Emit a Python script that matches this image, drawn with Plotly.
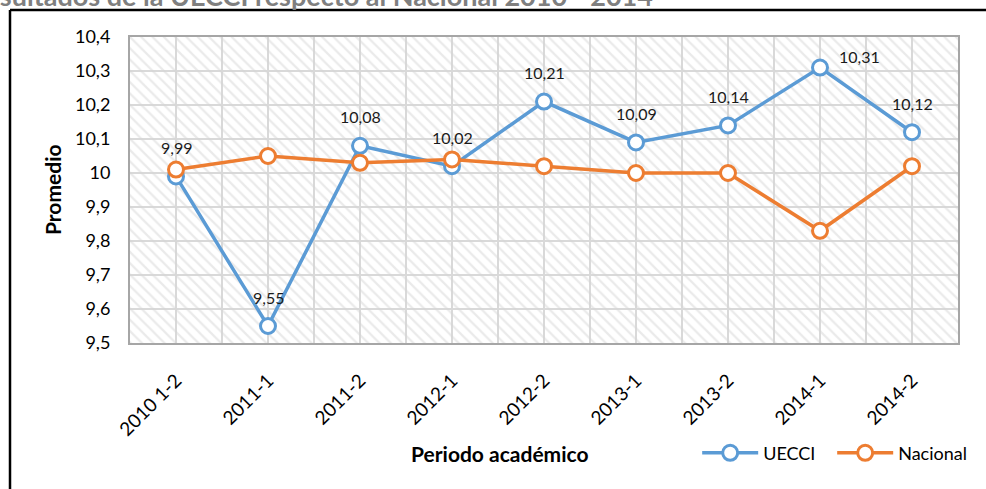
import plotly.graph_objects as go

periods = ["2010 1-2", "2011-1", "2011-2", "2012-1", "2012-2", "2013-1", "2013-2", "2014-1", "2014-2"]
uecci = [9.99, 9.55, 10.08, 10.02, 10.21, 10.09, 10.14, 10.31, 10.12]
nacional = [10.01, 10.05, 10.03, 10.04, 10.02, 10.00, 10.00, 9.83, 10.02]
y_ticks = [9.5, 9.6, 9.7, 9.8, 9.9, 10.0, 10.1, 10.2, 10.3, 10.4]
y_tick_labels = ["9,5", "9,6", "9,7", "9,8", "9,9", "10", "10,1", "10,2", "10,3", "10,4"]

FONT = "Lato"
BLUE = "#5B9BD5"
ORANGE = "#ED7D31"
GRID = "#d9d9d9"

idx = list(range(len(periods)))
y_min, y_max = y_ticks[0], y_ticks[-1]

fig = go.Figure()

# hatched plot background
fig.add_trace(go.Bar(
    x=idx, y=[y_max - y_min] * len(idx), base=y_min, width=1.0,
    marker=dict(color="rgba(0,0,0,0)", line=dict(width=0),
                pattern=dict(shape="\\", fgcolor="#d6d6d6", bgcolor="rgba(0,0,0,0)",
                             size=8, solidity=0.28)),
    showlegend=False, hoverinfo="skip"))

fig.add_trace(go.Scatter(
    x=idx, y=uecci, name="UECCI", mode="lines+markers",
    line=dict(color=BLUE, width=3.5),
    marker=dict(size=15, color="white", line=dict(color=BLUE, width=3))))
fig.add_trace(go.Scatter(
    x=idx, y=nacional, name="Nacional", mode="lines+markers",
    line=dict(color=ORANGE, width=3.5),
    marker=dict(size=15, color="white", line=dict(color=ORANGE, width=3))))

for i, v in enumerate(uecci):
    is_max = v == max(uecci)
    fig.add_annotation(x=i, y=v, text=f"{v:.2f}".replace(".", ","), showarrow=False,
                       xref="x", yref="y", yshift=11 if is_max else 29,
                       xshift=39 if is_max else 0,
                       font=dict(family=FONT, size=16, color="#1a1a1a"))

fig.add_annotation(text="<b>Periodo académico</b>", xref="paper", yref="paper",
                   x=(500 - 130) / 828, y=(343 - 453) / 306, xanchor="center", yanchor="middle",
                   showarrow=False, font=dict(family=FONT, size=21, color="#000000"))
fig.add_annotation(text="<b>Promedio</b>", xref="paper", yref="paper", textangle=-90,
                   x=(52 - 130) / 828, y=(343 - 190) / 306, xanchor="center", yanchor="middle",
                   showarrow=False, font=dict(family=FONT, size=21, color="#000000"))
fig.add_annotation(text="<b>Resultados de la UECCI respecto al Nacional 2010 - 2014</b>",
                   xref="paper", yref="paper", x=(655 - 130) / 828, xanchor="right",
                   y=(343 + 4.5) / 306, yanchor="middle", showarrow=False,
                   font=dict(family=FONT, size=27, color="#7f7f7f"))

# outer frame (top and left edges visible)
fig.add_shape(type="line", xref="paper", yref="paper", x0=(10 - 130) / 828, x1=(990 - 130) / 828,
              y0=(343 - 10) / 306, y1=(343 - 10) / 306, line=dict(color="black", width=2.5))
fig.add_shape(type="line", xref="paper", yref="paper", x0=(10 - 130) / 828, x1=(10 - 130) / 828,
              y0=(343 - 10) / 306, y1=(343 - 500) / 306, line=dict(color="black", width=2.5))

fig.update_layout(
    width=986, height=489,
    margin=dict(l=130, r=28, t=37, b=146, autoexpand=False),
    paper_bgcolor="white", plot_bgcolor="white",
    font=dict(family=FONT, size=16, color="#000000"),
    barmode="overlay", bargap=0,
    legend=dict(orientation="h", x=0.685, y=-0.36, xanchor="left", yanchor="middle",
                font=dict(family=FONT, size=18, color="#000000"),
                itemwidth=56, entrywidth=64, entrywidthmode="pixels",
                bgcolor="rgba(0,0,0,0)"),
    xaxis=dict(range=[-0.5, len(periods) - 0.5], tickvals=idx, ticktext=periods,
               tickangle=-45, showgrid=True, gridcolor=GRID, gridwidth=2,
               minor=dict(dtick=0.5, tick0=-0.5, showgrid=True, gridcolor=GRID, gridwidth=2),
               showline=True, linecolor="#a6a6a6", linewidth=2, mirror=True,
               zeroline=False, ticks="", automargin=False, ticklabelstandoff=17,
               tickfont=dict(family=FONT, size=19, color="#000000")),
    yaxis=dict(range=[y_min, y_max], tickvals=y_ticks, ticktext=y_tick_labels,
               showgrid=True, gridcolor=GRID, gridwidth=2,
               showline=True, linecolor="#a6a6a6", linewidth=2, mirror=True,
               zeroline=False, ticks="", automargin=False, ticklabelstandoff=14,
               tickfont=dict(family=FONT, size=18, color="#000000")),
)

fig.write_html("out.html", config={"displayModeBar": False},
               post_script="document.body.style.margin='0px';")
